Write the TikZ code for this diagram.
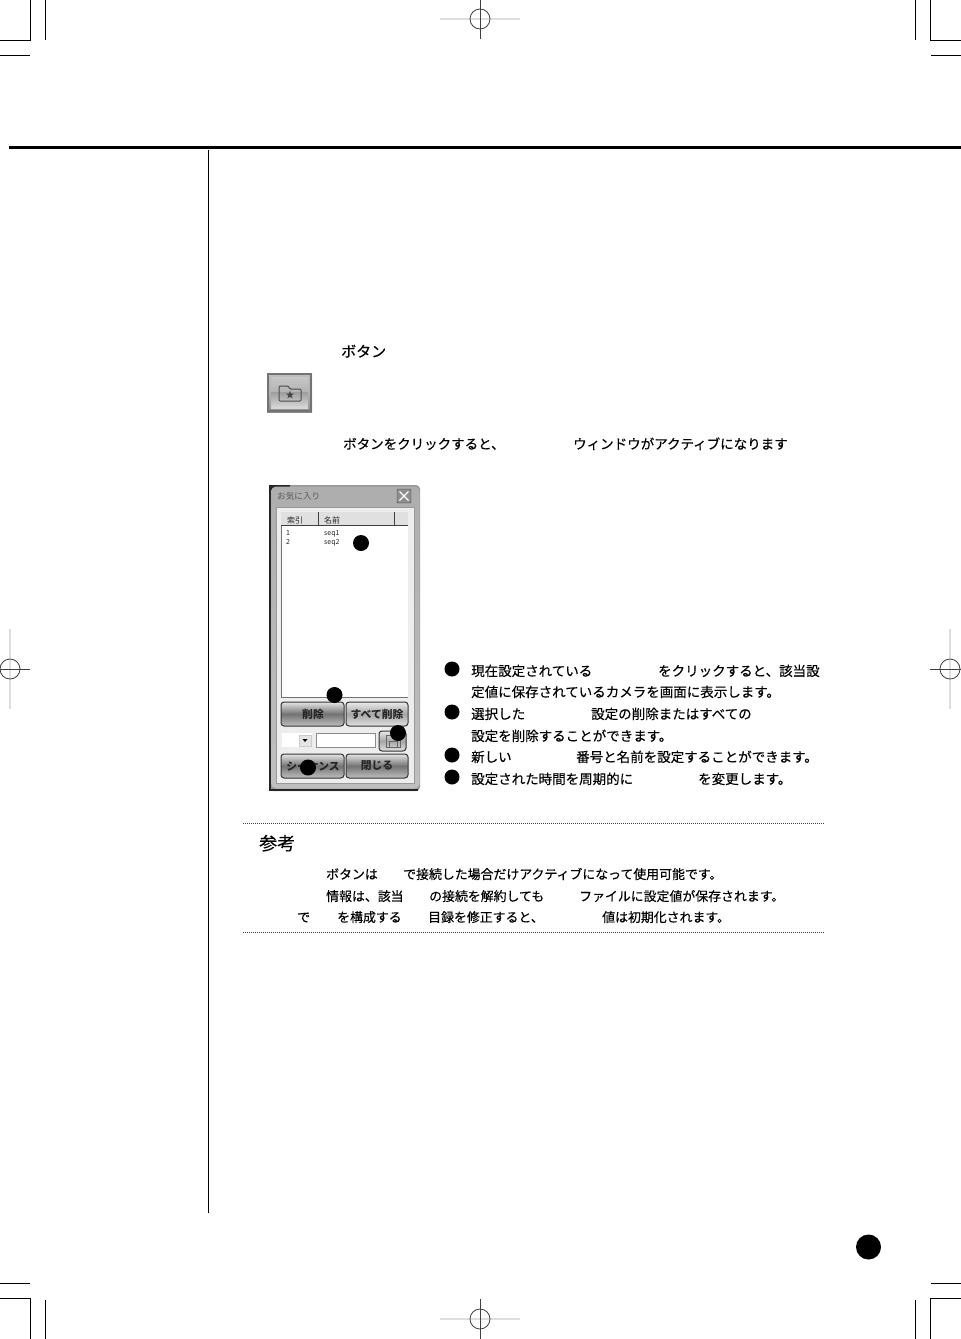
\documentclass[tikz,border=0pt]{standalone}
\usepackage{fontspec}
\setmainfont{Noto Sans CJK JP}
\newfontfamily\medfont[FakeBold=0.3]{Noto Sans CJK JP}
\tikzset{
 x=1pt,y=-1pt,
 crop/.style={line width=1pt,black},
 reg/.style={line width=0.8pt,black!75},
 regbar/.style={line width=2pt,black!13},
 body/.style={anchor=base west,inner sep=0pt,font=\medfont\fontsize{13.5}{15}\selectfont,text=black},
 notetext/.style={anchor=base west,inner sep=0pt,font=\medfont\fontsize{12.9}{15}\selectfont,text=black},
 small/.style={anchor=base west,inner sep=0pt,font=\fontsize{8}{9}\selectfont,text=black!85},
 tiny/.style={anchor=base west,inner sep=0pt,font=\fontsize{7}{8}\selectfont,text=black!85},
 btxt/.style={inner sep=0pt,font=\fontsize{10.8}{12}\selectfont\bfseries,text=black!85},
 marker/.style={circle,fill=black,inner sep=0pt,minimum size=16pt},
 winbtn/.style={draw=black!80,line width=1pt,rounded corners=3pt,top color=black!10,bottom color=black!25,middle color=black!55},
 litebtn/.style={draw=black!80,line width=1pt,rounded corners=3pt,top color=black!8,bottom color=black!12,middle color=black!35},
 dots/.style={line width=0.8pt,black!75,dash pattern=on 1pt off 1pt},
}
\begin{document}
\begin{tikzpicture}
\useasboundingbox (0,0) rectangle (961,1339);
% crop marks
\foreach \fx/\fy/\sx/\sy in {0/0/1/1,961/0/-1/1,0/1339/1/-1,961/1339/-1/-1}{
 \begin{scope}[shift={(\fx,\fy)},xscale=\sx,yscale=\sy]
  \draw[crop] (0,40.5)--(30.5,40.5)--(30.5,0);
  \draw[crop] (45.5,0)--(45.5,39.5);
  \draw[crop] (0,55.5)--(30,55.5);
 \end{scope}}
% registration marks
\foreach \cx/\cy/\ya/\yb in {480/19/0/39,480/1319/1299/1339}{
 \draw[regbar] (\cx-40,\cy)--(\cx+40,\cy);
 \draw[reg] (\cx,\cy) circle (10);
 \draw[reg] (\cx,\ya)--(\cx,\yb);
}
\foreach \cx/\cy/\xa/\xb in {10/669/0/30,950/669/930/961}{
 \draw[regbar] (\cx,\cy-40)--(\cx,\cy+40);
 \draw[reg] (\cx,\cy) circle (10);
 \draw[reg] (\xa,\cy)--(\xb,\cy);
}
% page rules
\draw[line width=3pt] (9,147.5)--(961,147.5);
\draw[line width=1pt] (208.5,150)--(208.5,1213);
% heading button
\node[anchor=base west,inner sep=0pt,font=\medfont\fontsize{15}{18}\selectfont] (h1) at (341,357) {ボタン};
\shade[top color=black!25,bottom color=black!45,middle color=black!30] (267,373) rectangle (312,412);
\draw[line width=1.5pt,black!55] (268,374) rectangle (311,411);
\shade[top color=black!22,bottom color=black!30] (271,377) rectangle (308,392);
\shade[top color=black!38,bottom color=black!15] (271,392) rectangle (308,408);
\draw[line width=1pt,black!70,rounded corners=1pt] (279,398)--(279,386)--(288,386)--(290,389)--(301,389)--(301,401)--(279,401)--cycle;
\node[inner sep=0pt,font=\fontsize{9}{9}\selectfont,text=black!75] (star) at (290,395) {★};
\node[body] (l1a) at (343,449) {ボタンをクリックすると、};
\node[body] (l1b) at (573,449) {ウィンドウがアクティブになります};
% window
\fill[black!40,rounded corners=4pt] (269,485) -- (420,485) -- (420,791) -- (269,791) -- cycle;
\fill[black!85] (269,485) rectangle (290,490);
\fill[black!85] (269,485) rectangle (271,791);
\fill[black!85] (269,789) rectangle (418,791);
\shade[top color=black!32,bottom color=black!25,rounded corners=5pt] (271,486.5) rectangle (419.5,788.5);
\fill[black!7] (276,507) rectangle (414,783);
\draw[black!40,line width=0.8pt] (276,507) rectangle (414,783);
\node[small,font=\fontsize{8.6}{9}\selectfont,text=black!65] (wt) at (277,499) {お気に入り};
\draw[black!70,fill=black!45,rounded corners=1pt] (397,489) rectangle (411,503);
\draw[white,line width=1.2pt] (399.5,491.5)--(408.5,500.5) (408.5,491.5)--(399.5,500.5);
\fill[white] (281,512) rectangle (408,697);
\draw[black!55,line width=0.7pt] (281,512)--(281,697)--(408,697);
\fill[black!12] (281,512) rectangle (408,525);
\draw[black!75,line width=0.7pt] (281,525)--(408,525) (318,512)--(318,525) (394,512)--(394,525);
\node[small] (c1) at (287,523) {索引};
\node[small] (c2) at (324,523) {名前};
\node[tiny] (r1a) at (286,535) {1};
\node[tiny] (r1b) at (324,535) {seq1};
\node[tiny] (r2a) at (286,544) {2};
\node[tiny] (r2b) at (324,544) {seq2};
\draw[winbtn] (281,702) rectangle (344,726);
\node[btxt] (b1) at (313,714) {削除};
\draw[litebtn] (346,702) rectangle (408,726);
\node[btxt] (b2) at (377,714) {すべて削除};
\fill[white] (282,733) rectangle (312,747);
\draw[black!20,fill=black!10,line width=0.6pt] (299,735) rectangle (311,746);
\fill[black] (302.5,739)--(307.5,739)--(305,742)--cycle;
\draw[black!45,fill=white,line width=0.6pt] (316,733) rectangle (375,747);
\draw[litebtn] (379,731) rectangle (406,751);
\draw[black!60,line width=0.8pt] (386,735) rectangle (400,747);
\draw[black!60,line width=0.8pt] (389,741) rectangle (397,747);
\draw[winbtn] (281,754) rectangle (344,778);
\node[btxt] (b3) at (313,766) {シーケンス};
\draw[winbtn] (346,754) rectangle (408,778);
\node[btxt] (b4) at (377,766) {閉じる};
\node[marker] (m1) at (361,543) {};
\node[marker] (m2) at (334.5,695) {};
\node[marker] (m3) at (398,733) {};
\node[marker] (m4) at (308,767.5) {};
% right list
\node[marker,minimum size=15pt] (k1) at (452,669) {};
\node[marker,minimum size=15pt] (k2) at (452,712) {};
\node[marker,minimum size=15pt] (k3) at (452,755) {};
\node[marker,minimum size=15pt] (k4) at (452,777) {};
\node[body] (t1a) at (471,676) {現在設定されている};
\node[body] (t1b) at (658,676) {をクリックすると、該当設};
\node[body] (t2) at (471,697) {定値に保存されているカメラを画面に表示します。};
\node[body] (t3a) at (471,719) {選択した};
\node[body] (t3b) at (591,719) {設定の削除またはすべての};
\node[body] (t4) at (471,741) {設定を削除することができます。};
\node[body] (t5a) at (471,762) {新しい};
\node[body] (t5b) at (576,762) {番号と名前を設定することができます。};
\node[body] (t6a) at (471,784) {設定された時間を周期的に};
\node[body] (t6b) at (698,784) {を変更します。};
% note
\draw[dots] (243,823)--(825,823);
\draw[dots] (243,932)--(825,932);
\node[anchor=base west,inner sep=0pt,font=\medfont\fontsize{18}{20}\selectfont] (n0) at (259,850) {参考};
\node[notetext] (n1a) at (326,879) {ボタンは};
\node[notetext] (n1b) at (403,879) {で接続した場合だけアクティブになって使用可能です。};
\node[notetext] (n2a) at (326,901) {情報は、該当};
\node[notetext] (n2b) at (429,901) {の接続を解約しても};
\node[notetext] (n2c) at (579,901) {ファイルに設定値が保存されます。};
\node[notetext] (n3a) at (297,922) {で};
\node[notetext] (n3b) at (337,922) {を構成する};
\node[notetext] (n3c) at (428,922) {目録を修正すると、};
\node[notetext] (n3d) at (602,922) {値は初期化されます。};
% page marker
\node[circle,fill=black,inner sep=0pt,minimum size=25pt] (pg) at (868.5,1247) {};
\end{tikzpicture}
\end{document}
